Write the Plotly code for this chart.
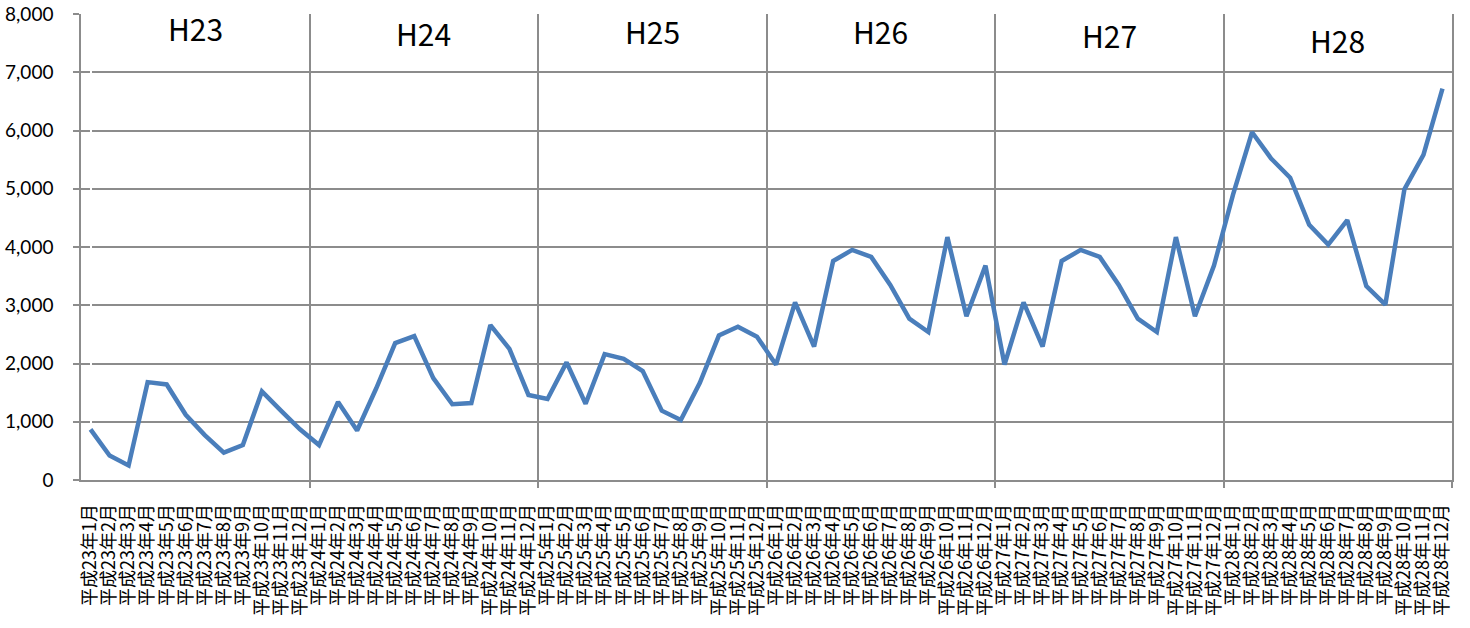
import plotly.graph_objects as go

# monthly counts, H23 (2011) .. H28 (2016)
years = [23, 24, 25, 26, 27, 28]
months = list(range(1, 13))

h23 = [870, 420, 250, 1680, 1640, 1120, 770, 470, 600, 1520, 1190, 870]
h24 = [600, 1340, 850, 1570, 2350, 2470, 1750, 1300, 1320, 2660, 2250, 1460]
h25 = [1390, 2020, 1310, 2160, 2080, 1870, 1190, 1030, 1670, 2480, 2630, 2460]
h26 = [1980, 3050, 2290, 3760, 3950, 3830, 3350, 2770, 2540, 4170, 2810, 3680]
h27 = [1980, 3050, 2290, 3760, 3950, 3830, 3350, 2770, 2540, 4170, 2810, 3680]
h28 = [4900, 5970, 5520, 5190, 4380, 4040, 4460, 3330, 3010, 4990, 5580, 6720]

year_labels = ["H23", "H24", "H25", "H26", "H27", "H28"]

values = h23 + h24 + h25 + h26 + h27 + h28
labels = [f"平成{y}年{m}月" for y in years for m in months]
xs = list(range(len(values)))

grid = "#8c8c8c"

fig = go.Figure()
fig.add_trace(go.Scatter(x=xs, y=values, mode="lines",
                         line=dict(color="#4a7ebb", width=4.5),
                         showlegend=False, hoverinfo="y"))

# year names sit near the top of each 12-month band
label_y = [7760, 7680, 7710, 7710, 7640, 7560]
for i, name in enumerate(year_labels):
    fig.add_annotation(x=12 * i + 5.5, y=label_y[i], text=name, showarrow=False,
                       font=dict(family="Noto Sans CJK JP", size=30, color="black"))

fig.update_layout(
    width=1470, height=628,
    margin=dict(l=81, r=18, t=14, b=148),
    paper_bgcolor="white", plot_bgcolor="white",
    xaxis=dict(range=[-0.5, len(values) - 0.5], automargin=False,
               tickmode="array", tickvals=xs, ticktext=labels,
               tickangle=-90, ticks="", showgrid=False,
               showline=True, linecolor=grid, linewidth=1.5,
               ticklabelstandoff=15,
               tickfont=dict(family="Noto Sans CJK JP", size=18, color="black"),
               minor=dict(tickmode="array",
                          tickvals=[12 * i - 0.5 for i in range(1, 7)],
                          showgrid=True, gridcolor=grid, gridwidth=1.5,
                          ticks="outside", ticklen=6, tickcolor=grid, tickwidth=1.5)),
    yaxis=dict(range=[0, 8000], dtick=1000, tickformat=",", automargin=False,
               showgrid=True, gridcolor=grid, gridwidth=1.5,
               showline=True, linecolor=grid, linewidth=1.5, mirror=True,
               ticks="outside", ticklen=6, tickcolor=grid, tickwidth=1.5,
               ticklabelstandoff=16, zeroline=False,
               tickfont=dict(family="Lato", size=19, color="black")),
)

# drop the default page margin so the figure sits at the window corner
fig.write_html("out.html", config={"displayModeBar": False},
               post_script="document.body.style.margin='0';")
